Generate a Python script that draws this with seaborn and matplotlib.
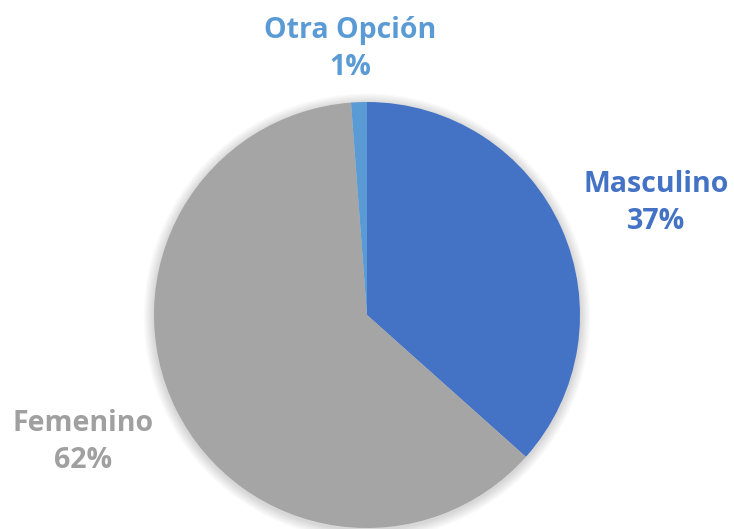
import matplotlib
matplotlib.use("Agg")
import matplotlib.pyplot as plt
from matplotlib.patches import Circle
import seaborn as sns

categories = ["Masculino", "Femenino", "Otra Opción"]
values = [36.6, 62.2, 1.2]
pct_labels = ["37%", "62%", "1%"]
colors = ["#4472C4", "#A5A5A5", "#5B9BD5"]
text_colors = ["#4472C4", "#A0A0A0", "#5B9BD5"]

sns.set_theme(style="white")
plt.rcParams["font.family"] = ["Open Sans", "DejaVu Sans"]

W, H = 734, 529
cx, cy, r = 367, 315, 213
fig = plt.figure(figsize=(W / 100, H / 100), dpi=100)
ax = fig.add_axes([0, 0, 1, 1])

# soft shadow around the pie
for i in range(8):
    ax.add_patch(Circle((0.0, -0.008), 1 + 0.006 * (i + 1), color="black",
                        alpha=0.018, lw=0, zorder=0))

ax.pie(values, colors=colors, startangle=90, counterclock=False,
       radius=1, center=(0, 0), wedgeprops=dict(linewidth=0, zorder=2))
ax.set_xlim(-cx / r, (W - cx) / r)
ax.set_ylim(-(H - cy) / r, cy / r)
ax.set_aspect("equal")
ax.axis("off")

# label centers in pixels -> data
label_px = [(656, 203), (83, 442), (350, 49)]
for cat, pct, col, (px, py) in zip(categories, pct_labels, text_colors, label_px):
    ax.text((px - cx) / r, (cy - py) / r, f"{cat}\n{pct}", color=col,
            ha="center", va="center", fontsize=20.5, fontweight="bold",
            linespacing=1.4)

fig.savefig("out.png", dpi=100, facecolor="white")
